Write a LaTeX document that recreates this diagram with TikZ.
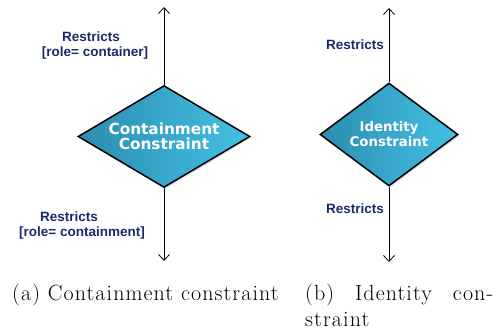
\documentclass[tikz,border=0pt]{standalone}
\usepackage{fontspec}
\usetikzlibrary{shapes.geometric,arrows.meta,shadows}
\newfontfamily\labfont{Liberation Sans}
\newfontfamily\diafont{DejaVu Sans}
\newfontfamily\capfont{Latin Modern Roman}[LetterSpace=5]
\definecolor{labnavy}{HTML}{1B2A6B}
\definecolor{cyandark}{HTML}{2C8DB0}
\definecolor{cyanlight}{HTML}{43C0E4}
\tikzset{
  constraint/.style={diamond, draw=black, line width=1.5pt, inner sep=0pt,
    left color=cyandark, right color=cyanlight,
    drop shadow={opacity=0.25, shadow xshift=1.5pt, shadow yshift=-1.5pt},
    text=white, align=center},
  rel/.style={-{Straight Barb[length=6pt,width=11pt]}, line width=0.8pt},
  rellabel/.style={text=labnavy, align=center, inner sep=0pt,
    font=\labfont\bfseries\fontsize{13.5}{15.5}\selectfont},
  caption/.style={anchor=base west, inner sep=0pt, font=\capfont\fontsize{22}{26.4}\selectfont}
}
\begin{document}
\begin{tikzpicture}[x=1pt, y=-1pt]
\useasboundingbox (0,0) rectangle (497,331);

% (a) containment constraint
\node[constraint, aspect=1.69, minimum width=172pt, minimum height=102pt,
      font=\diafont\bfseries\fontsize{15.3}{16}\selectfont] (cont) at (164,136.5)
  {Containment\\[-1pt]Constraint};
\coordinate (contup) at (164,7);
\coordinate (contdown) at (164,261);
\draw[rel] (cont.north) -- (contup);
\draw[rel] (cont.south) -- (contdown);
\node[rellabel] (contuplab) at (95,45.5) {Restricts\hspace*{8pt}\\{}[role= container]};
\node[rellabel] (contdownlab) at (82,225.5) {Restricts\hspace*{26pt}\\{}[role= containment]};

% (b) identity constraint
\node[constraint, aspect=1.34, minimum width=138pt, minimum height=103pt,
      font=\diafont\bfseries\fontsize{13.3}{16}\selectfont] (ident) at (389,134.5)
  {Identity\\[-1pt]Constraint};
\coordinate (identup) at (389,8);
\coordinate (identdown) at (389,262);
\draw[rel] (ident.north) -- (identup);
\draw[rel] (ident.south) -- (identdown);
\node[rellabel] (identuplab) at (355,45) {Restricts};
\node[rellabel] (identdownlab) at (355,209) {Restricts};

% sub-captions
\node[caption] (capa) at (12,300) {(a) Containment constraint};
\node[caption] (capb) at (305,300) {\makebox[188pt][s]{(b) Identity con-}};
\node[caption] (capb2) at (305,326) {straint};
\end{tikzpicture}
\end{document}
